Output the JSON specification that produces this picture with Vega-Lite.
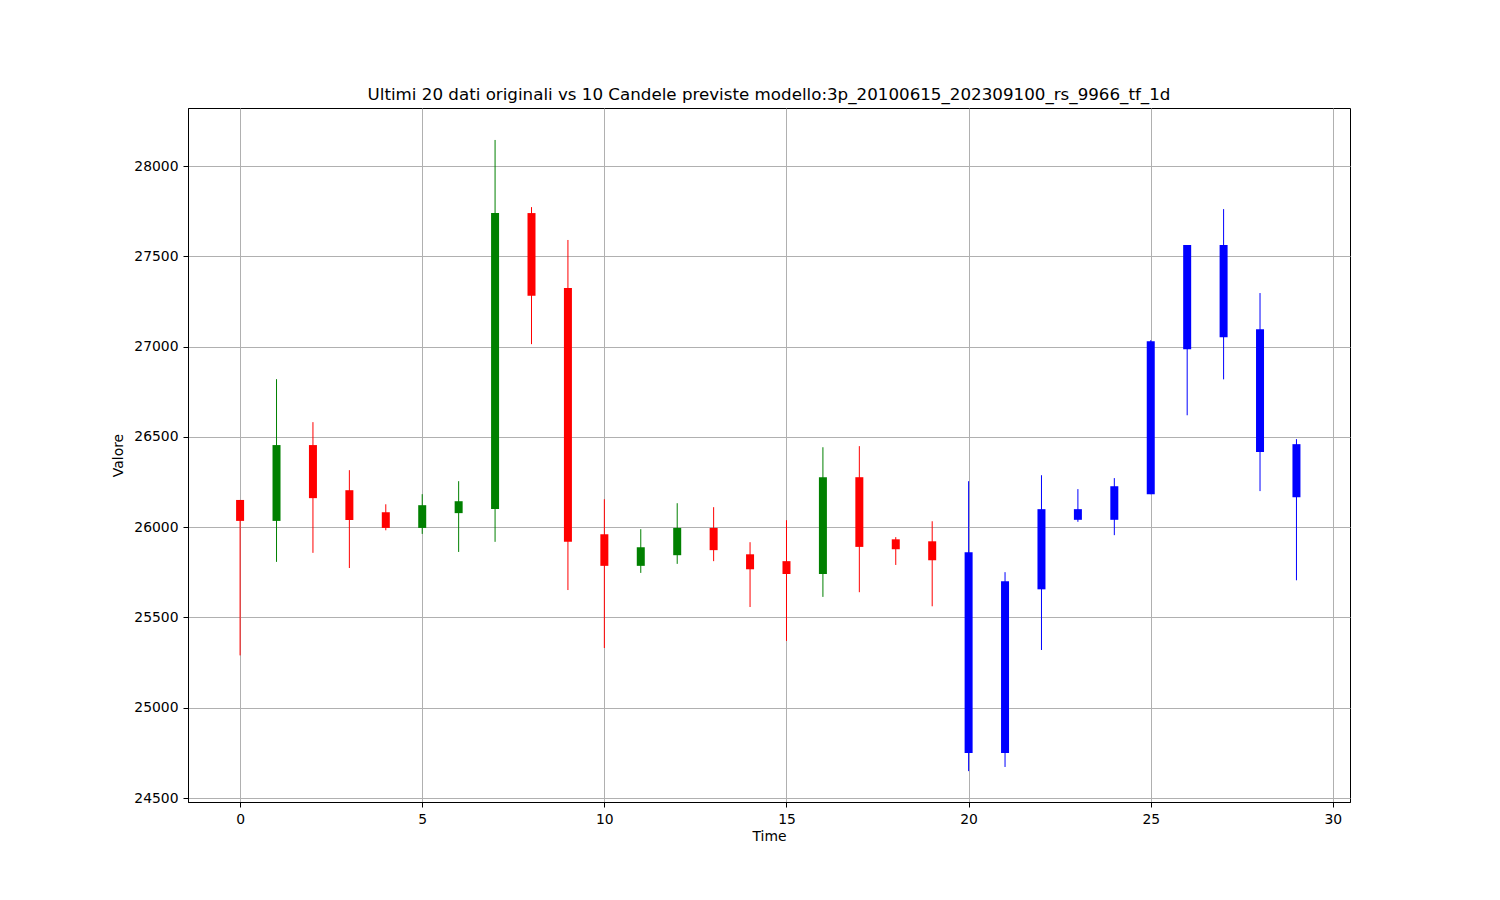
{
  "$schema": "https://vega.github.io/schema/vega-lite/v6.json",
  "width": 1162,
  "height": 694,
  "autosize": "none",
  "padding": {"left": 188, "top": 108, "right": 150, "bottom": 98},
  "background": "white",
  "title": {
    "text": "Ultimi 20 dati originali vs 10 Candele previste modello:3p_20100615_202309100_rs_9966_tf_1d",
    "font": "DejaVu Sans",
    "fontSize": 16.7,
    "fontWeight": "normal",
    "color": "black",
    "anchor": "middle",
    "offset": 4
  },
  "config": {
    "view": {"stroke": "black", "strokeWidth": 1},
    "axis": {
      "labelFont": "DejaVu Sans",
      "labelFontSize": 13.9,
      "labelColor": "black",
      "titleFont": "DejaVu Sans",
      "titleFontSize": 13.9,
      "titleFontWeight": "normal",
      "titleColor": "black",
      "gridColor": "#b0b0b0",
      "gridWidth": 1,
      "gridOpacity": 1,
      "tickColor": "black",
      "tickSize": 5,
      "tickWidth": 1,
      "domainColor": "black",
      "domainWidth": 1,
      "labelPadding": 5
    }
  },
  "data": {
    "values": [
      {"t": 0, "open": 26151, "close": 26035, "high": 26151, "low": 25290, "tipo": "ribasso"},
      {"t": 1, "open": 26035, "close": 26455, "high": 26820, "low": 25808, "tipo": "rialzo"},
      {"t": 2, "open": 26455, "close": 26161, "high": 26582, "low": 25858, "tipo": "ribasso"},
      {"t": 3, "open": 26205, "close": 26040, "high": 26316, "low": 25774, "tipo": "ribasso"},
      {"t": 4, "open": 26083, "close": 25996, "high": 26127, "low": 25983, "tipo": "ribasso"},
      {"t": 5, "open": 25996, "close": 26122, "high": 26183, "low": 25963, "tipo": "rialzo"},
      {"t": 6, "open": 26078, "close": 26144, "high": 26255, "low": 25863, "tipo": "rialzo"},
      {"t": 7, "open": 26101, "close": 27740, "high": 28145, "low": 25919, "tipo": "rialzo"},
      {"t": 8, "open": 27740, "close": 27282, "high": 27773, "low": 27014, "tipo": "ribasso"},
      {"t": 9, "open": 27325, "close": 25919, "high": 27591, "low": 25652, "tipo": "ribasso"},
      {"t": 10, "open": 25961, "close": 25786, "high": 26155, "low": 25331, "tipo": "ribasso"},
      {"t": 11, "open": 25786, "close": 25889, "high": 25989, "low": 25747, "tipo": "rialzo"},
      {"t": 12, "open": 25845, "close": 25996, "high": 26133, "low": 25797, "tipo": "rialzo"},
      {"t": 13, "open": 25996, "close": 25873, "high": 26111, "low": 25812, "tipo": "ribasso"},
      {"t": 14, "open": 25850, "close": 25767, "high": 25917, "low": 25558, "tipo": "ribasso"},
      {"t": 15, "open": 25812, "close": 25741, "high": 26039, "low": 25370, "tipo": "ribasso"},
      {"t": 16, "open": 25741, "close": 26277, "high": 26443, "low": 25614, "tipo": "rialzo"},
      {"t": 17, "open": 26277, "close": 25891, "high": 26449, "low": 25640, "tipo": "ribasso"},
      {"t": 18, "open": 25933, "close": 25878, "high": 25945, "low": 25791, "tipo": "ribasso"},
      {"t": 19, "open": 25922, "close": 25817, "high": 26033, "low": 25562, "tipo": "ribasso"},
      {"t": 20, "open": 25861, "close": 24749, "high": 26255, "low": 24649, "tipo": "previsione"},
      {"t": 21, "open": 25701, "close": 24749, "high": 25751, "low": 24672, "tipo": "previsione"},
      {"t": 22, "open": 25656, "close": 26100, "high": 26288, "low": 25320, "tipo": "previsione"},
      {"t": 23, "open": 26100, "close": 26041, "high": 26211, "low": 26030, "tipo": "previsione"},
      {"t": 24, "open": 26041, "close": 26227, "high": 26272, "low": 25956, "tipo": "previsione"},
      {"t": 25, "open": 26183, "close": 27030, "high": 27036, "low": 26183, "tipo": "previsione"},
      {"t": 26, "open": 26986, "close": 27563, "high": 27563, "low": 26620, "tipo": "previsione"},
      {"t": 27, "open": 27563, "close": 27052, "high": 27762, "low": 26819, "tipo": "previsione"},
      {"t": 28, "open": 27097, "close": 26416, "high": 27297, "low": 26200, "tipo": "previsione"},
      {"t": 29, "open": 26460, "close": 26166, "high": 26488, "low": 25706, "tipo": "previsione"}
    ]
  },
  "encoding": {
    "x": {
      "field": "t",
      "type": "quantitative",
      "scale": {"domain": [-1.43, 30.47], "nice": false, "zero": false, "padding": 0},
      "axis": {"title": "Time", "values": [0, 5, 10, 15, 20, 25, 30], "format": "d", "titlePadding": 4}
    },
    "color": {
      "field": "tipo",
      "type": "nominal",
      "scale": {"domain": ["rialzo", "ribasso", "previsione"], "range": ["#008000", "#ff0000", "#0000ff"]},
      "legend": null
    }
  },
  "layer": [
    {
      "mark": {"type": "rule", "strokeWidth": 1},
      "encoding": {
        "y": {
          "field": "low",
          "type": "quantitative",
          "scale": {"domain": [24478, 28322], "nice": false, "zero": false},
          "axis": {"title": "Valore", "values": [24500, 25000, 25500, 26000, 26500, 27000, 27500, 28000], "format": "d", "titlePadding": 8}
        },
        "y2": {"field": "high"}
      }
    },
    {
      "mark": {"type": "bar", "width": 8},
      "encoding": {
        "y": {"field": "open", "type": "quantitative"},
        "y2": {"field": "close"}
      }
    }
  ]
}
